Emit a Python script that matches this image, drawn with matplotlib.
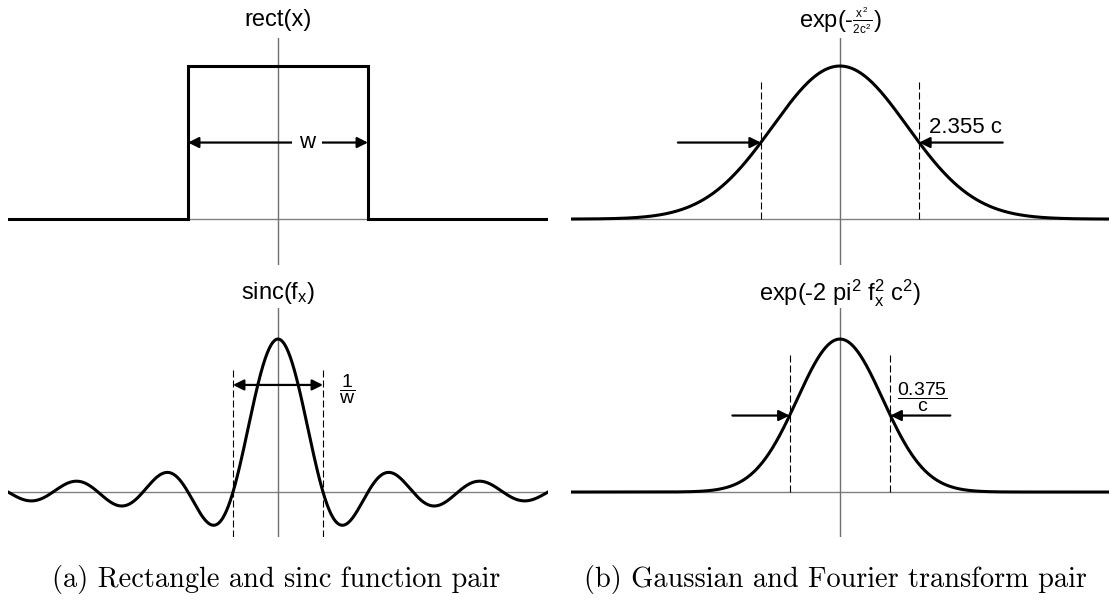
import numpy as np
import matplotlib
matplotlib.use('Agg')
from matplotlib import pyplot as plt
from matplotlib.mathtext import MathTextParser

# 関数の定数
rect_w = 1.0            # rect の幅 w
gauss_c = 1.0           # ガウスの c
fwhm_space = 2.355      # exp(-x^2/2c^2) の半値全幅 (c 単位)
fwhm_freq = 0.375       # exp(-2 pi^2 f^2 c^2) の半値全幅 (1/c 単位)

# 表示範囲
rect_xlim = [-1.5, 1.5]
sinc_xlim = [-6.0, 6.0]
gauss_xlim = [-4.0, 4.0]
gauss_f_xlim = [-1.0, 1.0]

# テキスト
titles = ['rect(x)', r'sinc(f$_x$)',
          r'exp(-$\genfrac{}{}{0.5}{2}{x^2}{2c^2}$)',
          r'exp(-2 $\mathrm{pi}^2$ $\mathrm{f}_x^2$ $\mathrm{c}^2$)']
label_w = 'w'
label_1w = r'$\dfrac{1}{\mathrm{w}}$'
label_fwhm = '2.355 c'
label_fwhm_f = r'$\dfrac{0.375}{\mathrm{c}}$'
captions = ['(a) Rectangle and sinc function pair',
            '(b) Gaussian and Fourier transform pair']

plt.rcParams['font.family'] = 'Liberation Sans'
plt.rcParams['mathtext.fontset'] = 'custom'
plt.rcParams['mathtext.rm'] = 'Liberation Sans'
plt.rcParams['mathtext.it'] = 'Liberation Sans'
plt.rcParams['mathtext.bf'] = 'Liberation Sans:bold'

# \genfrac が通らない版のための予備
try:
    MathTextParser('agg').parse(r'$\genfrac{}{}{0.5}{2}{x^2}{2c^2}$', dpi=100)
except ValueError:
    titles[2] = r'exp(-$\frac{x^2}{2c^2}$)'

W, H = 1111, 608
fig = plt.figure(figsize=(W / 100, H / 100), dpi=100)


def make_axes(x0, x1, y0, y1, xlim, ylim):
    ax = fig.add_axes([x0 / W, 1 - y1 / H, (x1 - x0) / W, (y1 - y0) / H])
    ax.set_xlim(xlim)
    ax.set_ylim(ylim)
    ax.axis('off')
    # 座標軸 (灰色)
    ax.axhline(0, color='#808080', lw=1.0, zorder=1)
    ax.axvline(0, color='#707070', lw=1.0, zorder=1)
    return ax


def arrow(ax, x0, x1, y, style='-|>'):
    ax.annotate('', xy=(x1, y), xytext=(x0, y),
                arrowprops=dict(arrowstyle=style, color='k', lw=1.6,
                                mutation_scale=16, shrinkA=0, shrinkB=0),
                zorder=3)


def dashed(ax, x, y0, y1):
    ax.plot([x, x], [y0, y1], color='k', lw=0.8, ls=(0, (6.3, 2.7)), zorder=2)


top_ylim = [-0.30, 1.183]
bot_ylim = [-0.294, 1.203]
title_y = 1.30
curve = dict(color='k', lw=2.2, zorder=2, solid_joinstyle='miter')

# (a) 上: rect(x)
ax1 = make_axes(8, 548, 38, 265, rect_xlim, top_ylim)
h = rect_w / 2
ax1.plot([rect_xlim[0], -h, -h, h, h, rect_xlim[1]], [0, 0, 1, 1, 0, 0], **curve)
arrow(ax1, -h, h, 0.5, style='<|-|>')
ax1.text(0.16, 0.5, label_w, ha='center', va='center', fontsize=16, zorder=4,
         bbox=dict(fc='white', ec='none', pad=5))
ax1.text(0, title_y, titles[0], ha='center', va='center', fontsize=17, clip_on=False)

# (a) 下: sinc
ax2 = make_axes(8, 548, 308, 537, sinc_xlim, bot_ylim)
f = np.linspace(sinc_xlim[0], sinc_xlim[1], 1200)
ax2.plot(f, np.sinc(rect_w * f), **curve)
z = 1 / rect_w
dashed(ax2, -z, bot_ylim[0], 0.81)
dashed(ax2, z, bot_ylim[0], 0.81)
arrow(ax2, -z, z, 0.70, style='<|-|>')
ax2.text(1.53, 0.67, label_1w, ha='center', va='center', fontsize=14)
ax2.text(0, title_y, titles[1], ha='center', va='center', fontsize=17, clip_on=False)

# (b) 上: ガウス
ax3 = make_axes(571, 1109, 38, 265, gauss_xlim, top_ylim)
x = np.linspace(gauss_xlim[0], gauss_xlim[1], 1200)
ax3.plot(x, np.exp(-x ** 2 / (2 * gauss_c ** 2)), **curve)
hw = fwhm_space * gauss_c / 2
dashed(ax3, -hw, 0, 0.90)
dashed(ax3, hw, 0, 0.90)
arrow(ax3, -2.41, -hw, 0.5)
arrow(ax3, 2.42, hw, 0.5)
ax3.text(1.87, 0.53, label_fwhm, ha='center', va='bottom', fontsize=16)
ax3.text(0, title_y, titles[2], ha='center', va='center', fontsize=17, clip_on=False)

# (b) 下: フーリエ変換
ax4 = make_axes(571, 1109, 308, 537, gauss_f_xlim, bot_ylim)
fx = np.linspace(gauss_f_xlim[0], gauss_f_xlim[1], 1200)
ax4.plot(fx, np.exp(-2 * np.pi ** 2 * fx ** 2 * gauss_c ** 2), **curve)
hf = fwhm_freq / gauss_c / 2
dashed(ax4, -hf, 0, 0.90)
dashed(ax4, hf, 0, 0.90)
arrow(ax4, -0.40, -hf, 0.5)
arrow(ax4, 0.41, hf, 0.5)
ax4.text(0.305, 0.62, label_fwhm_f, ha='center', va='center', fontsize=14)
ax4.text(0, title_y, titles[3], ha='center', va='center', fontsize=17, clip_on=False)

# キャプション
fig.text(276 / W, 1 - 580 / H, captions[0], ha='center', va='center',
         fontsize=20.4, family='cmr10')
fig.text(835 / W, 1 - 580 / H, captions[1], ha='center', va='center',
         fontsize=20.4, family='cmr10')

fig.savefig('out.png', dpi=100)
plt.close()
